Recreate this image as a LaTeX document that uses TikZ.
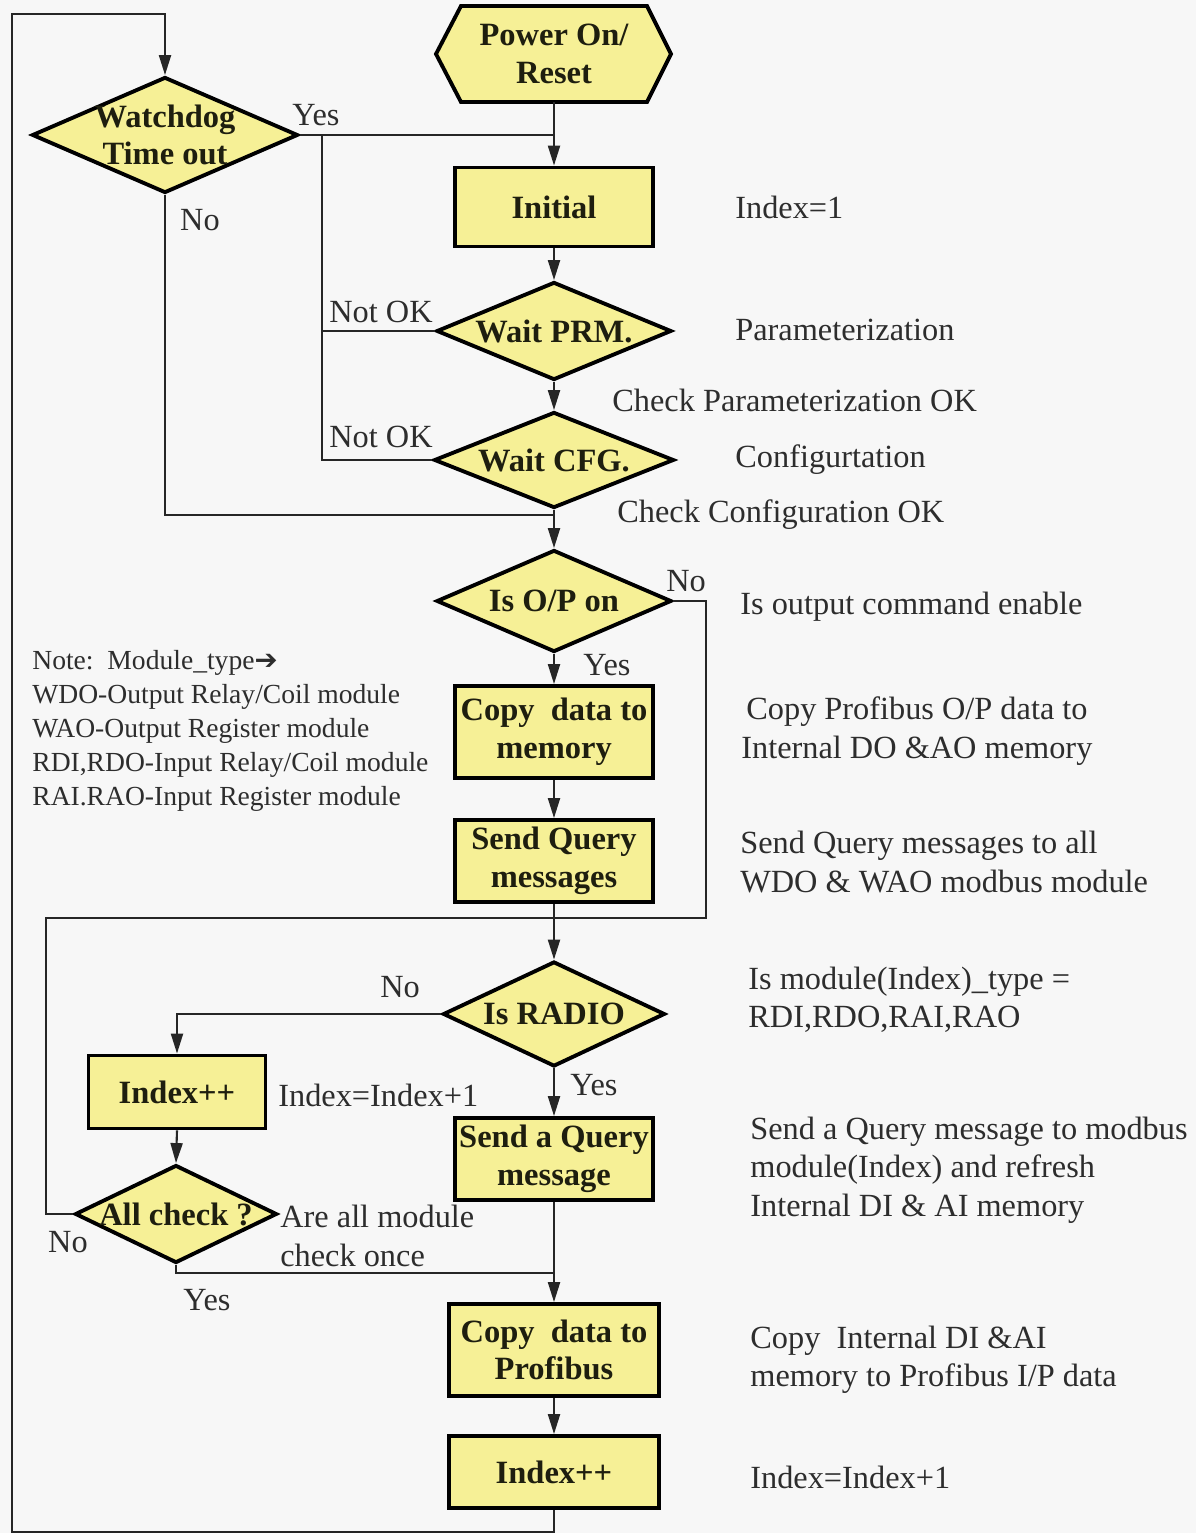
\documentclass[tikz,border=0pt]{standalone}
\usepackage{fontspec}
\setmainfont{Liberation Serif}
\newfontfamily\symfont{DejaVu Sans}
\usetikzlibrary{shapes.geometric,arrows.meta}
\definecolor{yfill}{RGB}{246,240,150}
\definecolor{bgc}{RGB}{247,247,247}
\definecolor{ink}{RGB}{30,30,15}
\definecolor{lab}{RGB}{45,45,45}
\begin{document}
\begin{tikzpicture}[x=0.02cm,y=-0.02cm,
 box/.style={rectangle,draw=black,line width=2.2pt,fill=yfill,inner sep=0pt,align=center,font=\bfseries\fontsize{18.5}{21.5}\selectfont,text=ink},
 dshape/.style={diamond,draw=black,line width=2.2pt,fill=yfill,inner sep=0pt},
 dtext/.style={inner sep=0pt,align=center,font=\bfseries\fontsize{18.5}{21.5}\selectfont,text=ink},
 lbl/.style={inner sep=0pt,font=\fontsize{18.4}{21.9}\selectfont,text=lab},
 ann/.style={lbl,align=left,anchor=west},
 conn/.style={line width=1.2pt,draw=black!85},
 arr/.style={conn,-{Triangle[length=0.4cm,width=0.24cm]}}]
\fill[bgc] (0,0) rectangle (1196,1533);
\useasboundingbox (0,0) rectangle (1196,1533);

% start hexagon
\filldraw[fill=yfill,draw=black,line width=2.2pt,line join=miter] (436,54) -- (461,6) -- (647,6) -- (671,54) -- (647,102) -- (461,102) -- cycle;
\node[dtext,minimum width=4.7cm,minimum height=1.92cm] (pwr) at (554,54) {Power On/\\Reset};

% boxes
\node[box,minimum width=3.96cm,minimum height=1.58cm] (init) at (554,207) {Initial};
\node[box,minimum width=3.96cm,minimum height=1.84cm] (copy1) at (554,732) {Copy\ \ data to\\memory};
\node[box,minimum width=3.96cm,minimum height=1.64cm] (sendq) at (554,861) {Send Query\\messages};
\node[box,minimum width=3.54cm,minimum height=1.46cm] (idx1) at (177,1092) {Index++};
\node[box,minimum width=3.96cm,minimum height=1.64cm] (sendone) at (554,1159) {Send a Query\\message};
\node[box,minimum width=4.2cm,minimum height=1.84cm] (copy2) at (554,1350) {Copy\ \ data to\\Profibus};
\node[box,minimum width=4.2cm,minimum height=1.44cm] (idx2) at (554,1472) {Index++};

% diamonds
\node[dshape,minimum width=5.32cm,minimum height=2.32cm] (wd) at (165,135) {};
\node[dtext] (wdt) at (wd) {Watchdog\\Time out};
\node[dshape,minimum width=4.7cm,minimum height=1.96cm] (prm) at (554,331) {};
\node[dtext] (prmt) at (prm) {Wait PRM.};
\node[dshape,minimum width=4.8cm,minimum height=1.92cm] (cfg) at (554,460) {};
\node[dtext] (cfgt) at (cfg) {Wait CFG.};
\node[dshape,minimum width=4.7cm,minimum height=2.04cm] (op) at (554,601) {};
\node[dtext] (opt) at (op) {Is O/P on};
\node[dshape,minimum width=4.44cm,minimum height=2.1cm] (radio) at (554,1014) {};
\node[dtext] (radiot) at (radio) {Is RADIO};
\node[dshape,minimum width=4.04cm,minimum height=1.96cm] (allc) at (176,1214) {};
\node[dtext] (allct) at (allc) {All check ?};

% junction coordinates
\coordinate (jx) at (322,135);
\coordinate (jy) at (554,135);
\coordinate (j2) at (554,515);
\coordinate (j3) at (554,918);
\coordinate (j4) at (554,1273);
\coordinate (loopl) at (12,14);

% connectors
\draw[arr] (pwr.south) -- (init.north);
\draw[conn] (wd.east) -- (jy);
\draw[conn] (prm.west) -| (jx);
\draw[conn] (cfg.west) -| (jx);
\draw[arr] (init.south) -- (prm.north);
\draw[arr] (prm.south) -- (cfg.north);
\draw[arr] (cfg.south) -- (op.north);
\draw[conn] (wd.south) |- (j2);
\draw[arr] (op.south) -- (copy1.north);
\draw[arr] (copy1.south) -- (sendq.north);
\draw[arr] (sendq.south) -- (radio.north);
\draw[conn] (op.east) -- ++(33,0) |- (j3);
\draw[conn] (allc.west) -- ++(-27,0) |- (j3);
\draw[arr] (radio.west) -| (idx1.north);
\draw[arr] (radio.south) -- (sendone.north);
\draw[arr] (idx1.south) -- (allc.north);
\draw[conn] (allc.south) |- (j4);
\draw[arr] (sendone.south) -- (copy2.north);
\draw[arr] (copy2.south) -- (idx2.north);
\draw[arr] (idx2.south) -- ++(0,22) -| (loopl) -| (wd.north);

% connector labels
\node[lbl] (l1) at (316,115) {Yes};
\node[lbl] (l2) at (200,220) {No};
\node[lbl] (l3) at (381,312) {Not OK};
\node[lbl] (l4) at (381,437) {Not OK};
\node[lbl,anchor=west] (l5) at (612,400) {Check Parameterization OK};
\node[lbl,anchor=west] (l6) at (617,515) {Check Configuration OK};
\node[lbl] (l7) at (686,581) {No};
\node[lbl] (l8) at (607,665) {Yes};
\node[lbl] (l9) at (400,987) {No};
\node[lbl] (l10) at (594,1085) {Yes};
\node[lbl] (l11) at (68,1242) {No};
\node[lbl] (l12) at (207,1300) {Yes};
\node[lbl,anchor=west] (l13) at (278,1095) {Index=Index+1};
\node[ann] (l14) at (280,1236) {Are all module\\check once};

% right annotations
\node[ann] (a1) at (735,207) {Index=1};
\node[ann] (a2) at (735,330) {Parameterization};
\node[ann] (a3) at (735,460) {Configurtation};
\node[ann] (a4) at (740,607) {Is output command enable};
\node[ann] (a5) at (741,731) {\hspace{0.1cm}Copy Profibus O/P data to\\Internal DO \&AO memory};
\node[ann] (a6) at (740,862) {Send Query messages to all\\WDO \& WAO modbus module};
\node[ann] (a7) at (748,1000) {Is module(Index)\_type =\\RDI,RDO,RAI,RAO};
\node[ann] (a8) at (750,1170) {Send a Query message to modbus\\module(Index) and refresh\\Internal DI \& AI memory};
\node[ann] (a9) at (750,1360) {Copy\ \ Internal DI \&AI\\memory to Profibus I/P data};
\node[ann] (a10) at (750,1477) {Index=Index+1};

% note
\node[inner sep=0pt,anchor=north west,align=left,text=lab,font=\fontsize{15.7}{19.3}\selectfont] (note) at (32,650)
 {Note:\ \ Module\_type{\symfont\bfseries ➔}\\WDO-Output Relay/Coil module\\WAO-Output Register module\\RDI,RDO-Input Relay/Coil module\\RAI.RAO-Input Register module};
\end{tikzpicture}
\end{document}
